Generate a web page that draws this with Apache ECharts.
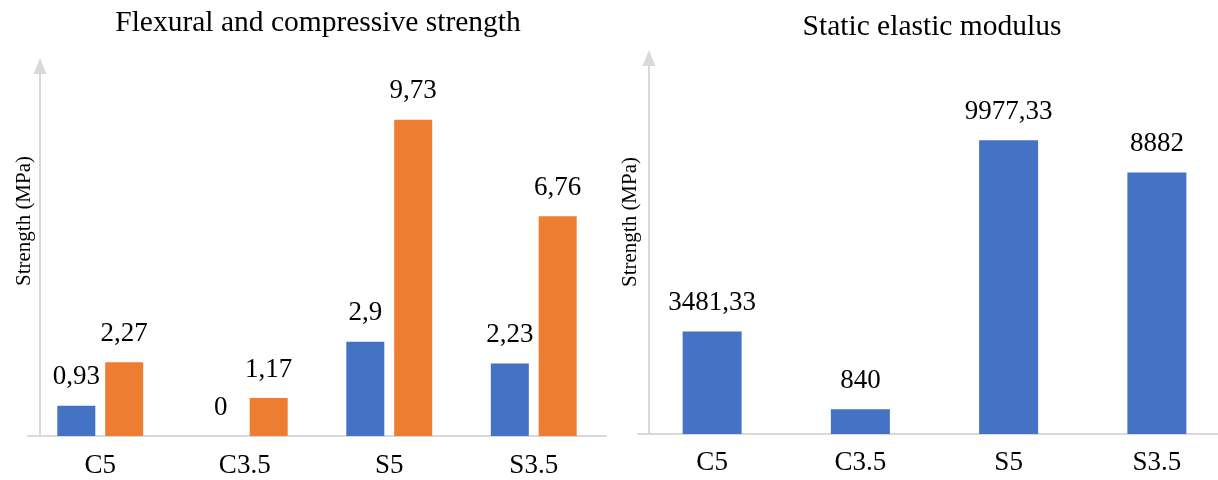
<!DOCTYPE html>
<html>
<head>
<meta charset="utf-8">
<script src="https://cdn.jsdelivr.net/npm/echarts@6/dist/echarts.min.js"></script>
<style>
  html, body { margin: 0; padding: 0; background: #fff; }
  #chart { width: 1218px; height: 480px; }
</style>
</head>
<body>
<div id="chart"></div>
<script>
// Mix designations (shared by both panels)
const categories = ['C5', 'C3.5', 'S5', 'S3.5'];

// Left panel: flexural and compressive strength (MPa)
const flexuralStrength = [0.93, 0, 2.9, 2.23];
const compressiveStrength = [2.27, 1.17, 9.73, 6.76];

// Right panel: static elastic modulus
const elasticModulus = [3481.33, 840, 9977.33, 8882];

const titles = ['Flexural and compressive strength', 'Static elastic modulus'];
const yAxisName = 'Strength (MPa)';

const BLUE = '#4472C4';
const ORANGE = '#ED7D31';
const AXIS_GREY = '#d9d9d9';
const FONT = 'Liberation Serif';

// Comma as decimal separator
const fmt = v => String(v).replace('.', ',');

const valueLabel = {
  show: true,
  position: 'top',
  distance: 15,
  fontFamily: FONT,
  fontSize: 27,
  color: '#000',
  formatter: p => fmt(p.value)
};

function valueAxis(gridIndex, max, offset, nameGap, namePad) {
  return {
    type: 'value',
    gridIndex,
    min: 0,
    max,
    offset,
    name: yAxisName,
    nameLocation: 'middle',
    nameRotate: 90,
    nameGap,
    nameTextStyle: { fontFamily: FONT, fontSize: 21, color: '#000', padding: [0, 0, 0, namePad] },
    axisLine: {
      show: true,
      symbol: ['none', 'triangle'],
      symbolSize: [13, 16],
      lineStyle: { color: AXIS_GREY, width: 2 }
    },
    axisTick: { show: false },
    axisLabel: { show: false },
    splitLine: { show: false }
  };
}

function categoryAxis(gridIndex, margin) {
  return {
    type: 'category',
    gridIndex,
    data: categories,
    axisLine: { show: true, lineStyle: { color: AXIS_GREY, width: 2 } },
    axisTick: { show: false },
    axisLabel: { margin, fontFamily: FONT, fontSize: 27, color: '#000' }
  };
}

const chart = echarts.init(document.getElementById('chart'), null, { renderer: 'canvas' });

chart.setOption({
  animation: false,
  backgroundColor: '#fff',
  title: [
    { text: titles[0], left: 318, top: 8, padding: 0, textAlign: 'center',
      textStyle: { fontFamily: FONT, fontSize: 29.5, fontWeight: 'normal', color: '#000' } },
    { text: titles[1], left: 932, top: 12, padding: 0, textAlign: 'center',
      textStyle: { fontFamily: FONT, fontSize: 29.5, fontWeight: 'normal', color: '#000' } }
  ],
  grid: [
    { left: 28, width: 578, top: 66, bottom: 44, outerBoundsMode: 'none', containLabel: false },
    { left: 638, width: 593, top: 58, bottom: 46, outerBoundsMode: 'none', containLabel: false }
  ],
  xAxis: [categoryAxis(0, 16), categoryAxis(1, 15)],
  yAxis: [
    valueAxis(0, 11.38, -12, 5, 60),
    valueAxis(1, 12770, -11, 8, 48)
  ],
  series: [
    { type: 'bar', xAxisIndex: 0, yAxisIndex: 0, data: flexuralStrength,
      barWidth: 38, barGap: '26%', itemStyle: { color: BLUE }, label: valueLabel },
    { type: 'bar', xAxisIndex: 0, yAxisIndex: 0, data: compressiveStrength,
      barWidth: 38, barGap: '26%', itemStyle: { color: ORANGE }, label: valueLabel },
    { type: 'bar', xAxisIndex: 1, yAxisIndex: 1, data: elasticModulus,
      barWidth: 59, itemStyle: { color: BLUE }, label: valueLabel }
  ]
});
</script>
</body>
</html>
